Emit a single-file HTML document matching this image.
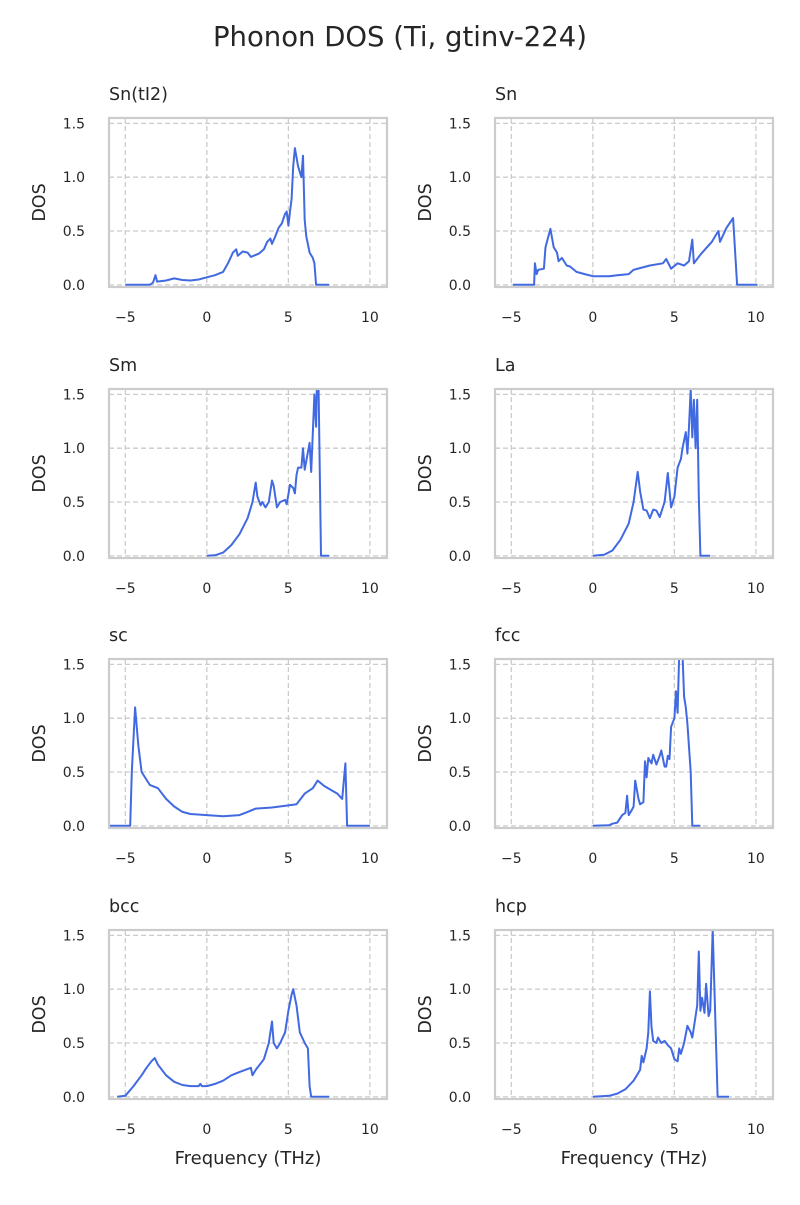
<!DOCTYPE html>
<html><head><meta charset="utf-8"><style>
body{margin:0;background:#fff}
svg text{font-family:"DejaVu Sans","Liberation Sans",sans-serif;fill:#262626}
</style></head><body>
<svg id="fig" width="800" height="1200" xmlns="http://www.w3.org/2000/svg">
<text x="400" y="46" font-size="27.5" text-anchor="middle">Phonon DOS (Ti, gtinv-224)</text>
</svg>
<script>
const panelTitles = ["Sn(tI2)","Sn","Sm","La","sc","fcc","bcc","hcp"];
const xTicks = [-5,0,5,10];
const yTicks = [0,0.5,1.0,1.5];
const yTickLabels = ["0.0","0.5","1.0","1.5"];
const freqSnTI2 = [-5,-3.5,-3.3,-3.15,-3.05,-2.5,-2,-1.5,-1,-0.5,0,0.5,1,1.3,1.6,1.8,1.9,2.2,2.5,2.7,3.2,3.5,3.7,3.9,4.0,4.2,4.4,4.6,4.8,4.9,5.0,5.1,5.2,5.3,5.4,5.6,5.8,5.9,6.0,6.1,6.3,6.5,6.6,6.7,7.5];
const dosSnTI2 = [0,0,0.02,0.09,0.03,0.04,0.06,0.045,0.04,0.05,0.07,0.09,0.12,0.2,0.3,0.33,0.27,0.31,0.3,0.26,0.29,0.33,0.4,0.43,0.38,0.45,0.53,0.57,0.66,0.68,0.55,0.68,0.8,1.1,1.27,1.1,1.0,1.2,0.6,0.45,0.3,0.25,0.2,0,0];
const freqSn = [-4.9,-3.6,-3.55,-3.45,-3.35,-3.0,-2.9,-2.6,-2.4,-2.2,-2.1,-1.9,-1.6,-1.4,-1.0,-0.5,0,1,1.5,2.2,2.5,3.5,4.3,4.5,4.8,5.2,5.6,5.9,6.1,6.2,6.6,7.0,7.3,7.5,7.7,7.8,8.2,8.6,8.85,10.1];
const dosSn = [0,0,0.2,0.1,0.14,0.15,0.35,0.52,0.35,0.3,0.22,0.25,0.18,0.17,0.12,0.1,0.08,0.08,0.09,0.1,0.14,0.18,0.2,0.24,0.15,0.2,0.18,0.22,0.42,0.2,0.28,0.35,0.4,0.45,0.5,0.4,0.53,0.62,0,0];
const freqSm = [0,0.5,1,1.5,2,2.5,2.8,3.0,3.1,3.3,3.4,3.6,3.8,4.0,4.1,4.3,4.5,4.8,4.9,5.1,5.3,5.4,5.5,5.6,5.8,5.9,6.0,6.3,6.4,6.6,6.7,6.75,6.85,7.0,7.5];
const dosSm = [0,0.005,0.03,0.1,0.2,0.35,0.5,0.68,0.55,0.47,0.5,0.45,0.5,0.7,0.65,0.45,0.5,0.52,0.48,0.66,0.63,0.58,0.75,0.82,0.82,1.0,0.8,1.05,0.78,1.5,1.2,1.6,1.6,0,0];
const freqLa = [0,0.7,1.2,1.7,2.2,2.5,2.75,2.9,3.1,3.3,3.5,3.7,3.9,4.1,4.4,4.6,4.8,5.0,5.2,5.4,5.5,5.7,5.8,5.9,6.0,6.1,6.2,6.3,6.4,6.5,6.6,7.2];
const dosLa = [0,0.01,0.05,0.15,0.3,0.5,0.78,0.6,0.43,0.42,0.35,0.43,0.42,0.36,0.5,0.77,0.45,0.55,0.82,0.9,1.0,1.15,0.95,1.2,1.55,1.1,1.45,1.0,1.45,0.55,0,0];
const freqSc = [-6,-4.7,-4.6,-4.4,-4.2,-4,-3.5,-3,-2.5,-2,-1.5,-1,0,1,2,2.5,3,4,5,5.5,6,6.5,6.8,7.2,8.0,8.3,8.5,8.6,10];
const dosSc = [0,0,0.5,1.1,0.75,0.5,0.38,0.35,0.25,0.18,0.13,0.11,0.1,0.09,0.1,0.13,0.16,0.17,0.19,0.2,0.3,0.35,0.42,0.37,0.3,0.25,0.58,0,0];
const freqFcc = [0,1,1.2,1.5,1.8,2.0,2.1,2.2,2.4,2.5,2.6,2.8,2.9,3.1,3.2,3.3,3.4,3.6,3.7,3.9,4.1,4.2,4.4,4.5,4.6,4.7,4.8,5.0,5.1,5.2,5.3,5.5,5.6,5.7,5.8,6.0,6.1,6.6];
const dosFcc = [0,0.005,0.02,0.03,0.1,0.12,0.28,0.1,0.15,0.18,0.42,0.25,0.2,0.22,0.6,0.45,0.63,0.58,0.66,0.57,0.65,0.7,0.55,0.55,0.65,0.62,0.92,1.0,1.25,1.05,1.6,1.6,1.2,1.1,0.95,0.5,0,0];
const freqBcc = [-5.5,-5,-4.5,-4,-3.7,-3.4,-3.2,-3.0,-2.5,-2,-1.5,-1,-0.5,-0.4,-0.3,0,0.5,1,1.5,2,2.7,2.8,3.0,3.5,3.8,4.0,4.1,4.3,4.5,4.8,5.0,5.2,5.3,5.5,5.7,6.0,6.2,6.3,6.4,7.5];
const dosBcc = [0,0.01,0.1,0.2,0.27,0.33,0.36,0.3,0.2,0.14,0.11,0.1,0.1,0.12,0.1,0.1,0.12,0.15,0.2,0.23,0.27,0.2,0.25,0.35,0.5,0.7,0.5,0.45,0.5,0.6,0.8,0.95,1.0,0.85,0.6,0.5,0.45,0.1,0,0];
const freqHcp = [0,1,1.5,2,2.5,2.9,3.0,3.1,3.3,3.4,3.5,3.6,3.7,3.9,4.0,4.2,4.4,4.6,4.8,5.0,5.2,5.3,5.4,5.6,5.8,6.0,6.1,6.3,6.4,6.5,6.6,6.7,6.85,6.95,7.1,7.2,7.35,7.65,8.35];
const dosHcp = [0,0.01,0.03,0.07,0.15,0.25,0.38,0.32,0.45,0.6,0.98,0.65,0.52,0.5,0.55,0.5,0.52,0.48,0.45,0.35,0.33,0.45,0.4,0.5,0.66,0.6,0.55,0.75,0.85,1.35,0.8,0.92,0.78,1.05,0.75,0.8,1.55,0,0];
const freqs = [freqSnTI2,freqSn,freqSm,freqLa,freqSc,freqFcc,freqBcc,freqHcp];
const doses = [dosSnTI2,dosSn,dosSm,dosLa,dosSc,dosFcc,dosBcc,dosHcp];

const NS="http://www.w3.org/2000/svg";
const fig=document.getElementById('fig');
function mk(tag,attrs,parent){const e=document.createElementNS(NS,tag);for(const k in attrs)e.setAttribute(k,attrs[k]);(parent||fig).appendChild(e);return e;}
const XMIN=-6,XMAX=11.05,YMIN=-0.02,YMAX=1.55;
const colX=[109,495],rowY=[118,389,659,930],W=278,H=169;
panelTitles.forEach((t,i)=>{
  const L=colX[i%2],T=rowY[Math.floor(i/2)];
  const sx=v=>L+(v-XMIN)/(XMAX-XMIN)*W;
  const sy=v=>T+H-(v-YMIN)/(YMAX-YMIN)*H;
  const g=mk('g',{});
  
  
  const cp=mk('clipPath',{id:'cp'+i},g);mk('rect',{x:L,y:T,width:W,height:H},cp);
  xTicks.forEach(v=>{
    const l=mk('line',{x1:sx(v),x2:sx(v),y1:T,y2:T+H,stroke:'#cccccc','stroke-width':1.3,'stroke-dasharray':'5,3'},g);
    
    
    const tx=mk('text',{x:sx(v),y:T+H+35,'font-size':14,'text-anchor':'middle'},g);
    tx.textContent=(v<0?'\u2212'+(-v):v);
    
    
  });
  yTicks.forEach((v,j)=>{
    const l=mk('line',{x1:L,x2:L+W,y1:sy(v),y2:sy(v),stroke:'#cccccc','stroke-width':1.3,'stroke-dasharray':'5,3'},g);
    
    
    const tx=mk('text',{x:L-24,y:sy(v)+5,'font-size':14,'text-anchor':'end'},g);
    tx.textContent=yTickLabels[j];
    
    
  });
  const fr=freqs[i],ds=doses[i];
  const d=fr.map((f,k)=>(k?'L':'M')+sx(f).toFixed(1)+','+sy(ds[k]).toFixed(1)).join(' ');
  const p=mk('path',{d:d,fill:'none',stroke:'#4169e1','stroke-width':2,'stroke-linejoin':'round','clip-path':'url(#cp'+i+')'},g);
  
  
  const fr2=mk('rect',{x:L,y:T,width:W,height:H,fill:'none',stroke:'#cccccc','stroke-width':2.2},g);
  
  
  const tt=mk('text',{x:L,y:T-18,'font-size':17.5},g);
  tt.textContent=t;
  
  
  const yl=mk('text',{x:0,y:0,'font-size':17.5,'text-anchor':'middle',transform:'translate('+(L-64)+','+(T+H/2)+') rotate(-90)'},g);
  yl.textContent='DOS';
  
  
  if(i>=6){
    const xl=mk('text',{x:L+W/2,y:T+H+65,'font-size':18,'text-anchor':'middle'},g);
    xl.textContent='Frequency (THz)';
    
    
  }
});
</script>
</body></html>
